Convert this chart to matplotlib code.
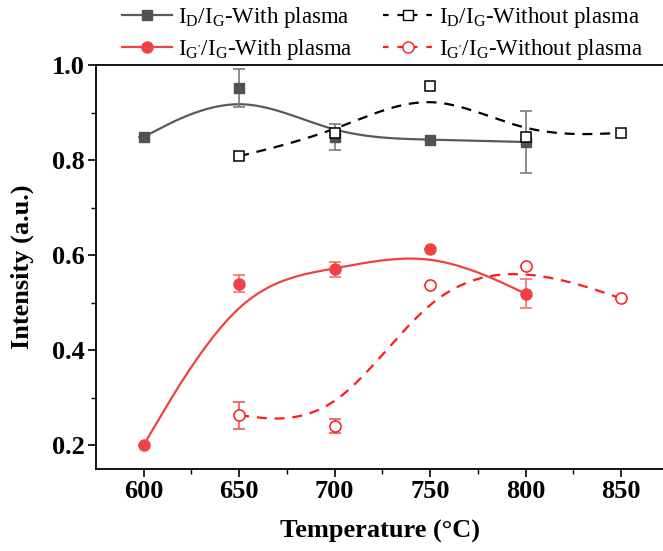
import numpy as np
import matplotlib
matplotlib.use("Agg")
import matplotlib.pyplot as plt
from matplotlib.lines import Line2D

# ---- data ----
temp_with = [600, 650, 700, 750, 800]
temp_without = [650, 700, 750, 800, 850]

idig_with = [0.849, 0.952, 0.848, 0.843, 0.838]
idig_with_err = [0.0, 0.040, 0.027, 0.0, 0.065]
idig_without = [0.808, 0.858, 0.956, 0.849, 0.857]

igig_with = [0.201, 0.540, 0.570, 0.613, 0.519]
igig_with_err = [0.0, 0.018, 0.016, 0.0, 0.030]
igig_without = [0.263, 0.240, 0.538, 0.577, 0.509]
igig_without_err = [0.029, 0.015, 0.0, 0.0, 0.0]

labels = [r'I$_\mathrm{D}$/I$_\mathrm{G}$-With plasma',
          r'I$_\mathrm{D}$/I$_\mathrm{G}$-Without plasma',
          r"I$_{\mathrm{G}^{\prime}}$/I$_\mathrm{G}$-With plasma",
          r"I$_{\mathrm{G}^{\prime}}$/I$_\mathrm{G}$-Without plasma"]

plt.rcParams['font.family'] = ['Liberation Serif', 'DejaVu Serif']
plt.rcParams['mathtext.fontset'] = 'custom'
plt.rcParams['mathtext.rm'] = 'Liberation Serif'
plt.rcParams['mathtext.it'] = 'Liberation Serif:italic'
plt.rcParams['mathtext.bf'] = 'Liberation Serif:bold'


def bspline(x, y, n=60):
    P = np.column_stack([x, y]).astype(float)
    Q = np.vstack([P[0], P[0], P, P[-1], P[-1]])
    t = np.linspace(0, 1, n)
    b0 = (1 - t) ** 3 / 6
    b1 = (3 * t ** 3 - 6 * t ** 2 + 4) / 6
    b2 = (-3 * t ** 3 + 3 * t ** 2 + 3 * t + 1) / 6
    b3 = t ** 3 / 6
    out = []
    for i in range(len(Q) - 3):
        seg = (np.outer(b0, Q[i]) + np.outer(b1, Q[i + 1]) +
               np.outer(b2, Q[i + 2]) + np.outer(b3, Q[i + 3]))
        out.append(seg)
    out = np.vstack(out)
    return out[:, 0], out[:, 1]


GRAY = '#515151'
GRAY_LINE = '#5a5a5a'
RED = '#f04242'
RED_D = '#ff1a1a'

fig = plt.figure(figsize=(6.63, 5.51), dpi=100)
ax = fig.add_axes([0.1448, 0.1488, 0.8552, 0.7332])

ms = 7
dash = (4.5, 3.5)

# curves
sx, sy = bspline(temp_with, idig_with)
ax.plot(sx, sy, color=GRAY_LINE, lw=1.6, zorder=2)
sx, sy = bspline(temp_without, idig_without)
ax.plot(sx, sy, color='black', lw=1.6, ls=(0, dash), zorder=2)
sx, sy = bspline(temp_with, igig_with)
ax.plot(sx, sy, color=RED, lw=1.6, zorder=2)
sx, sy = bspline(temp_without, igig_without)
ax.plot(sx, sy, color=RED_D, lw=1.6, ls=(0, dash), zorder=2)

# error bars
ax.errorbar(temp_with, idig_with, yerr=idig_with_err, fmt='none',
            ecolor='#7a7a7a', elinewidth=1.2, capsize=4, capthick=1.2, zorder=3)
ax.errorbar(temp_with, igig_with, yerr=igig_with_err, fmt='none',
            ecolor='#f27070', elinewidth=1.2, capsize=4, capthick=1.2, zorder=3)
ax.errorbar(temp_without, igig_without, yerr=igig_without_err, fmt='none',
            ecolor='#f25555', elinewidth=1.2, capsize=4, capthick=1.2, zorder=3)

# markers
ax.plot(temp_with, idig_with, 's', color=GRAY, ms=ms, ls='none', zorder=4)
ax.plot(temp_without, idig_without, 's', mfc='white', mec='black', mew=1.1,
        ms=ms, ls='none', zorder=5)
ax.plot(temp_with, igig_with, 'o', color=RED, ms=ms + 1, ls='none', zorder=4)
ax.plot(temp_without, igig_without, 'o', mfc='white', mec=RED_D, mew=1.1,
        ms=ms + 1, ls='none', zorder=5)

ax.set_xlim(575, 872)
ax.set_ylim(0.15, 1.0)
ax.set_xticks([600, 650, 700, 750, 800, 850])
ax.set_xticks(np.arange(625, 875, 50), minor=True)
ax.set_yticks([0.2, 0.4, 0.6, 0.8, 1.0])
ax.set_yticks([0.3, 0.5, 0.7, 0.9], minor=True)
ax.set_yticklabels(['0.2', '0.4', '0.6', '0.8', '1.0'])

ax.spines['right'].set_visible(False)
for s in ['left', 'bottom', 'top']:
    ax.spines[s].set_linewidth(1.3)
ax.tick_params(which='major', direction='out', length=6, width=1.2,
               labelsize=19, pad=2)
ax.tick_params(which='minor', direction='out', length=3.5, width=1.0)
for lab in ax.get_xticklabels() + ax.get_yticklabels():
    lab.set_fontweight('bold')

ax.set_xlabel('Temperature (°C)', fontsize=19, fontweight='bold', labelpad=12)
ax.set_ylabel('Intensity (a.u.)', fontsize=19, fontweight='bold', labelpad=13)

h_dw = Line2D([], [], color=GRAY_LINE, lw=1.6, marker='s', ms=ms, mfc=GRAY, mec=GRAY)
h_dn = Line2D([], [], color='black', lw=1.6, ls=(0, (2.5, 4)), marker='s', ms=ms,
              mfc='white', mec='black')
h_gw = Line2D([], [], color=RED, lw=1.6, marker='o', ms=ms + 1, mfc=RED, mec=RED)
h_gn = Line2D([], [], color=RED_D, lw=1.6, ls=(0, (2.5, 4)), marker='o', ms=ms + 1,
              mfc='white', mec=RED_D)
handles = [h_dw, h_gw, h_dn, h_gn]
leg_labels = [labels[0], labels[2], labels[1], labels[3]]
leg = fig.legend(handles, leg_labels, ncol=2, loc='upper left',
                 bbox_to_anchor=(0.17, 1.008), frameon=False, fontsize=16.5,
                 handlelength=2.2, handletextpad=0.25, columnspacing=1.3,
                 labelspacing=0.3, borderaxespad=0)

fig.savefig('out.png', dpi=100)
